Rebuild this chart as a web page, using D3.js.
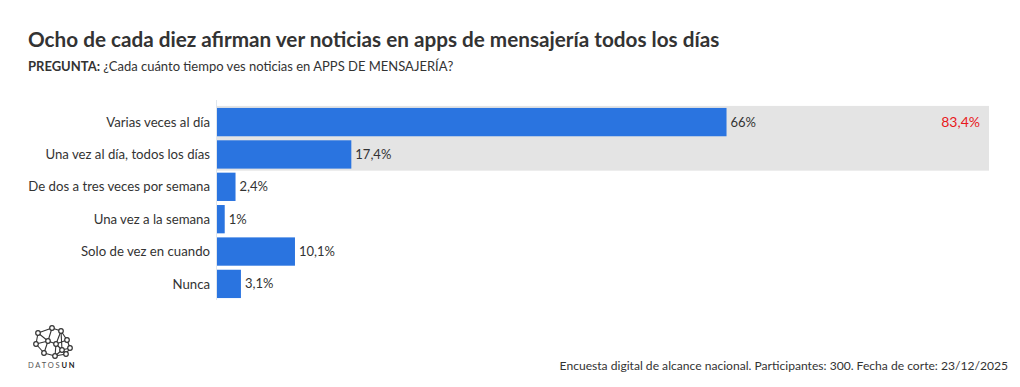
<!DOCTYPE html>
<html><head><meta charset="utf-8">
<script src="https://cdn.jsdelivr.net/npm/d3@7"></script>
<style>
body{margin:0;background:#fff;}
svg{font-family:"Lato","Noto Sans",sans-serif;}
</style></head>
<body><svg id="c" width="1020" height="387"></svg>
<script>
const categories = ["Varias veces al día","Una vez al día, todos los días","De dos a tres veces por semana","Una vez a la semana","Solo de vez en cuando","Nunca"];
const values = [66, 17.4, 2.4, 1, 10.1, 3.1];
const valueLabels = ["66%","17,4%","2,4%","1%","10,1%","3,1%"];
const highlightCategories = ["Varias veces al día","Una vez al día, todos los días"];
const highlightTotalLabel = "83,4%";
const title = "Ocho de cada diez afirman ver noticias en apps de mensajería todos los días";
const subtitleBold = "PREGUNTA:";
const subtitleText = " ¿Cada cuánto tiempo ves noticias en APPS DE MENSAJERÍA?";
const footer = "Encuesta digital de alcance nacional. Participantes: 300. Fecha de corte: 23/12/2025";

const svg = d3.select("#c");
const x = d3.scaleLinear().domain([0,100]).range([217,989]);
const y = d3.scaleBand().domain(categories).range([106,300]).paddingInner(0.125).paddingOuter(0.06);

// title
svg.append("text").attr("x",28).attr("y",47).attr("font-size",20.7).attr("font-weight",700).attr("fill","#333").text(title);
const st = svg.append("text").attr("x",28).attr("y",71).attr("font-size",13).attr("fill","#333");
st.append("tspan").attr("font-weight",700).text(subtitleBold);
st.append("tspan").text(subtitleText);

// highlight background
const hy0 = y(highlightCategories[0]) - y.step()*y.paddingInner()/2;
const hy1 = y(highlightCategories[1]) + y.bandwidth() + y.step()*y.paddingInner()/2;
svg.append("rect").attr("x",x(0)).attr("y",hy0).attr("width",x(100)-x(0)).attr("height",hy1-hy0).attr("fill","#e4e4e4");
svg.append("text").attr("x",x(100)-9).attr("y",y(highlightCategories[0])+y.bandwidth()/2).attr("dy","0.35em")
  .attr("text-anchor","end").attr("font-size",14).attr("fill","#e8191c").text(highlightTotalLabel);

// axis line
svg.append("line").attr("x1",x(0)-0.5).attr("x2",x(0)-0.5).attr("y1",100).attr("y2",300).attr("stroke","#dfe6ee").attr("stroke-width",1);

// bars
svg.selectAll("rect.bar").data(categories).join("rect").attr("class","bar")
  .attr("x",x(0)).attr("y",d=>y(d)).attr("height",y.bandwidth())
  .attr("width",(d,i)=>x(values[i])-x(0)).attr("fill","#2a74e0");

svg.selectAll("text.val").data(categories).join("text").attr("class","val")
  .attr("x",(d,i)=>x(values[i])+4).attr("y",d=>y(d)+y.bandwidth()/2).attr("dy","0.35em")
  .attr("font-size",13).attr("fill","#333").text((d,i)=>valueLabels[i]);

svg.selectAll("text.cat").data(categories).join("text").attr("class","cat")
  .attr("x",210).attr("y",d=>y(d)+y.bandwidth()/2).attr("dy","0.35em").attr("text-anchor","end")
  .attr("font-size",13.2).attr("fill","#333").text(d=>d);

// footer
svg.append("text").attr("x",1008).attr("y",370).attr("text-anchor","end").attr("font-size",12.1).attr("fill","#333").text(footer);

// logo
const nodes = [[38,333],[52,328],[61,331],[67,340],[70,348],[62,350],[56,344],[48,341],[36,344],[44,353],[55,356],[66,354]];
const links = [[0,1],[1,2],[2,3],[3,4],[4,11],[11,10],[10,9],[9,8],[8,0],[0,7],[7,1],[7,6],[6,2],[6,3],[6,5],[5,4],[5,11],[5,10],[7,9],[7,8],[6,10],[2,5]];
const lg = svg.append("g");
lg.selectAll("line").data(links).join("line").attr("x1",d=>nodes[d[0]][0]).attr("y1",d=>nodes[d[0]][1])
  .attr("x2",d=>nodes[d[1]][0]).attr("y2",d=>nodes[d[1]][1]).attr("stroke","#333").attr("stroke-width",1.1);
lg.selectAll("circle").data(nodes).join("circle").attr("cx",d=>d[0]).attr("cy",d=>d[1]).attr("r",2.3)
  .attr("fill","#fff").attr("stroke","#333").attr("stroke-width",1.2);
const lt = svg.append("text").attr("x",28).attr("y",368).attr("font-size",7.5).attr("letter-spacing",1.8).attr("fill","#555");
lt.append("tspan").text("DATOS");
lt.append("tspan").attr("font-weight",700).attr("fill","#222").text("UN");
</script></body></html>
